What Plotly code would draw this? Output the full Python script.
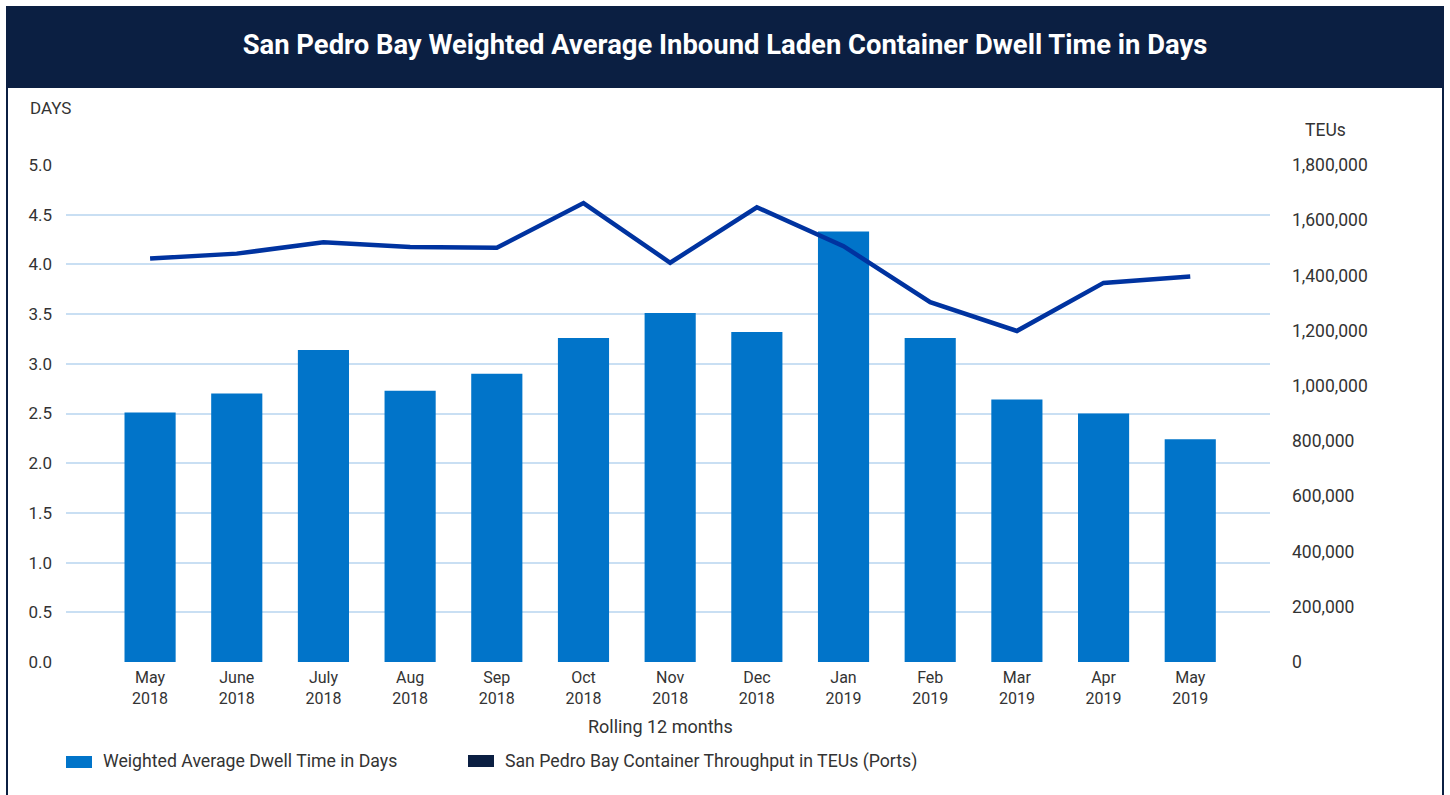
import plotly.graph_objects as go

# ---- data ----
categories = ["May<br>2018", "June<br>2018", "July<br>2018", "Aug<br>2018", "Sep<br>2018",
              "Oct<br>2018", "Nov<br>2018", "Dec<br>2018", "Jan<br>2019", "Feb<br>2019",
              "Mar<br>2019", "Apr<br>2019", "May<br>2019"]
dwell_days = [2.51, 2.70, 3.14, 2.73, 2.90, 3.26, 3.51, 3.32, 4.33, 3.26, 2.64, 2.50, 2.24]
throughput_teu = [1461000, 1479000, 1520000, 1503000, 1500000, 1662000, 1446000,
                  1647000, 1506000, 1303000, 1199000, 1373000, 1396000]
bar_name = "Weighted Average Dwell Time in Days"
line_name = "San Pedro Bay Container Throughput in TEUs (Ports)"
title_text = "San Pedro Bay Weighted Average Inbound Laden Container Dwell Time in Days"

# ---- styles ----
W, H = 1450, 795
L, R, T, B = 66, 1270, 165, 662  # plot area in pixels
NAVY = "#0B1F42"
BAR = "#0174C9"
LINE = "#0033A0"
GRID = "#C9DFF3"
TXT = "#333333"
FONT = "Roboto, 'Open Sans', Arial, sans-serif"

def px(x):
    return (x - L) / (R - L)

def py(y):
    return (B - y) / (B - T)

fig = go.Figure()
fig.add_trace(go.Bar(x=categories, y=dwell_days, name=bar_name, marker_color=BAR,
                     marker_line_width=0, yaxis="y", showlegend=False))
fig.add_trace(go.Scatter(x=categories, y=throughput_teu, name=line_name, mode="lines",
                         line=dict(color=LINE, width=4.5), yaxis="y2", showlegend=False))

shapes = [
    # title bar
    dict(type="rect", xref="paper", yref="paper", x0=px(6), x1=px(1444), y0=py(6), y1=py(88),
         fillcolor=NAVY, line_width=0, layer="below"),
    # side borders
    dict(type="rect", xref="paper", yref="paper", x0=px(6), x1=px(8), y0=py(88), y1=py(800),
         fillcolor=NAVY, line_width=0),
    dict(type="rect", xref="paper", yref="paper", x0=px(1442), x1=px(1444), y0=py(88), y1=py(800),
         fillcolor=NAVY, line_width=0),
    # legend swatches
    dict(type="rect", xref="paper", yref="paper", x0=px(66), x1=px(92), y0=py(768), y1=py(756),
         fillcolor=BAR, line_width=0),
    dict(type="rect", xref="paper", yref="paper", x0=px(468), x1=px(494), y0=py(767), y1=py(755),
         fillcolor=NAVY, line_width=0),
]

annotations = [
    dict(text="DAYS", xref="paper", yref="paper", x=px(28), y=py(108), xanchor="left",
         yanchor="middle", showarrow=False, font=dict(family=FONT, size=17, color=TXT)),
    dict(text="TEUs", xref="paper", yref="paper", x=px(1325), y=py(130), xanchor="center",
         yanchor="middle", showarrow=False, font=dict(family=FONT, size=17.5, color=TXT)),
    dict(text="Rolling 12 months", xref="paper", yref="paper", x=px(660), y=py(726),
         xanchor="center", yanchor="middle", showarrow=False,
         font=dict(family=FONT, size=18, color=TXT)),
    dict(text=bar_name, xref="paper", yref="paper", x=px(101), y=py(761), xanchor="left",
         yanchor="middle", showarrow=False, font=dict(family=FONT, size=17.7, color=TXT)),
    dict(text=line_name, xref="paper", yref="paper", x=px(503), y=py(761), xanchor="left",
         yanchor="middle", showarrow=False, font=dict(family=FONT, size=17.7, color=TXT)),
]

fig.update_layout(
    width=W, height=H,
    margin=dict(l=L, r=W - R, t=T, b=H - B, pad=0),
    paper_bgcolor="white", plot_bgcolor="white",
    font=dict(family=FONT, size=16, color=TXT),
    title=dict(text="<b>" + title_text + "</b>", x=0.5, xref="container", y=1 - 44 / H,
               yref="container", xanchor="center", yanchor="middle",
               font=dict(family=FONT, size=27.4, color="white")),
    bargap=0.41,
    showlegend=False,
    xaxis=dict(type="category", range=[-0.97, 12.92], showgrid=False, showline=False,
               zeroline=False, ticks="", tickfont=dict(size=16, color=TXT),
               ticklabelstandoff=4),
    yaxis=dict(range=[0, 5], dtick=0.5, tickformat=".1f", showgrid=True, gridcolor=GRID,
               gridwidth=2, zeroline=False, showline=False, ticks="",
               ticklabelstandoff=13, tickfont=dict(size=17, color=TXT)),
    yaxis2=dict(range=[0, 1800000], dtick=200000, tickformat=",d", overlaying="y",
                side="right", showgrid=False, zeroline=False, showline=False, ticks="",
                ticklabelstandoff=21, tickfont=dict(size=17.5, color=TXT)),
    shapes=shapes,
    annotations=annotations,
)

fig.write_html("out.html", config={"displayModeBar": False},
               post_script="document.body.style.margin='0';")
